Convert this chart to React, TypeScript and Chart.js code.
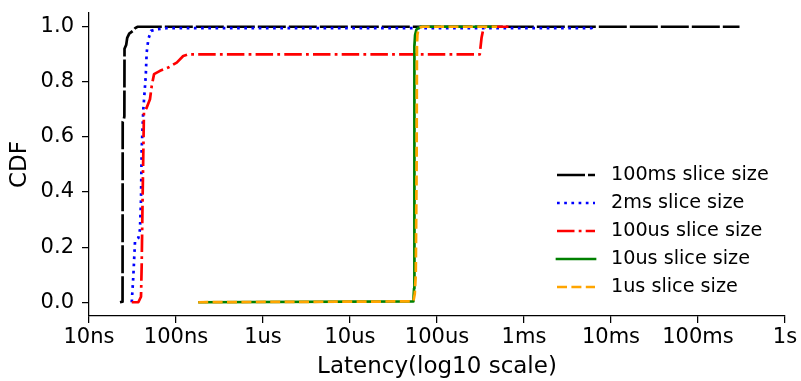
import React, { useEffect, useRef } from "react";
import { Chart, registerables } from "chart.js";

Chart.register(...registerables);

// x axis (latency in ns, log scale)
const xTickValues = [10, 100, 1e3, 1e4, 1e5, 1e6, 1e7, 1e8, 1e9];
const xTickLabels = ["10ns", "100ns", "1us", "10us", "100us", "1ms", "10ms", "100ms", "1s"];
const yTickValues = [0, 0.2, 0.4, 0.6, 0.8, 1.0];

const seriesLabels = [
  "100ms slice size",
  "2ms slice size",
  "100us slice size",
  "10us slice size",
  "1us slice size",
];

// 100ms slice size
const lat100ms = [22.7, 24.3, 24.4, 25.2, 25.5, 25.6, 26.8, 27.5, 29, 32, 34, 36, 3.0e8];
const cdf100ms = [0, 0.002, 0.655, 0.665, 0.675, 0.92, 0.935, 0.96, 0.975, 0.985, 0.995, 1.0, 1.0];

// 2ms slice size
const lat2ms = [31, 32.3, 33.8, 36.9, 38.5, 39.6, 40.3, 42.1, 44.9, 46, 48.1, 51.6, 60, 78, 6.0e6, 6.2e6];
const cdf2ms = [0, 0.093, 0.221, 0.233, 0.263, 0.372, 0.554, 0.7, 0.821, 0.906, 0.955, 0.985, 0.991, 0.995, 0.995, 1.0];

// 100us slice size
const lat100us = [31, 36.9, 39.6, 40.3, 41.3, 42.8, 46, 50.2, 52.6, 55.9, 65.5, 81.5, 102, 121, 138, 3.1e5, 3.25e5, 3.4e5, 3.6e5, 7.0e5];
const cdf100us = [0, 0, 0.02, 0.13, 0.372, 0.688, 0.706, 0.737, 0.785, 0.828, 0.84, 0.852, 0.87, 0.894, 0.9, 0.9, 0.96, 0.99, 1.0, 1.0];

// 10us slice size
const lat10us = [180, 53500, 54500, 54800, 55200, 56000, 58000, 62000, 66000, 490000];
const cdf10us = [0, 0.003, 0.05, 0.5, 0.93, 0.97, 0.99, 0.997, 1.0, 1.0];

// 1us slice size
const lat1us = [180, 53500, 55500, 57000, 58300, 58800, 59500, 61000, 64000, 68000, 490000];
const cdf1us = [0, 0.003, 0.03, 0.1, 0.5, 0.93, 0.97, 0.99, 0.997, 1.0, 1.0];

const FONT = "'DejaVu Sans', sans-serif";

const toPoints = (xs: number[], ys: number[]) => xs.map((x, i) => ({ x, y: ys[i] }));

const legendPlugin = {
  id: "cdfLegend",
  afterDatasetsDraw(chart: any, _args: any, opts: any) {
    const { ctx, chartArea } = chart;
    const datasets = chart.data.datasets;
    const lineStart = chartArea.right - opts.lineOffset;
    const lineEnd = lineStart + opts.lineLength;
    const textX = chartArea.right - opts.textOffset;
    const lastY = chartArea.bottom - opts.bottomOffset;
    const n = datasets.length;
    ctx.save();
    datasets.forEach((ds: any, i: number) => {
      const y = lastY - (n - 1 - i) * opts.rowHeight;
      ctx.beginPath();
      ctx.setLineDash(ds.borderDash || []);
      ctx.lineDashOffset = 0;
      ctx.lineWidth = ds.borderWidth;
      ctx.strokeStyle = ds.borderColor;
      ctx.lineCap = ds.borderDash && ds.borderDash.length ? "butt" : "square";
      ctx.moveTo(lineStart, y);
      ctx.lineTo(lineEnd, y);
      ctx.stroke();
      ctx.setLineDash([]);
      ctx.fillStyle = "#000";
      ctx.font = `${opts.fontSize}px ${FONT}`;
      ctx.textAlign = "left";
      ctx.textBaseline = "middle";
      ctx.fillText(ds.label, textX, y + 0.5);
    });
    ctx.restore();
  },
};

export default function App() {
  const ref = useRef<HTMLCanvasElement>(null);

  useEffect(() => {
    document.body.style.margin = "0";
    const lw = 2.7;
    const chart = new Chart(ref.current as HTMLCanvasElement, {
      type: "line",
      data: {
        datasets: [
          {
            label: seriesLabels[0],
            data: toPoints(lat100ms, cdf100ms),
            borderColor: "#000000",
            borderDash: [28, 3],
            borderWidth: lw,
            order: 4,
          },
          {
            label: seriesLabels[1],
            data: toPoints(lat2ms, cdf2ms),
            borderColor: "#0000ff",
            borderDash: [2.7, 4.5],
            borderWidth: lw,
            order: 3,
          },
          {
            label: seriesLabels[2],
            data: toPoints(lat100us, cdf100us),
            borderColor: "#ff0000",
            borderDash: [17.5, 4.2, 2.8, 4.2],
            borderWidth: lw,
            order: 2,
          },
          {
            label: seriesLabels[3],
            data: toPoints(lat10us, cdf10us),
            borderColor: "#008000",
            borderDash: [],
            borderWidth: lw,
            order: 1,
          },
          {
            label: seriesLabels[4],
            data: toPoints(lat1us, cdf1us),
            borderColor: "#ffa500",
            borderDash: [10, 4.4],
            borderWidth: lw,
            order: 0,
          },
        ].map((d) => ({
          ...d,
          pointRadius: 0,
          pointHoverRadius: 0,
          tension: 0,
          fill: false,
          borderCapStyle: "butt",
          borderJoinStyle: "round",
        })) as any,
      },
      options: {
        responsive: false,
        animation: false,
        events: [],
        layout: { padding: { top: 13, right: 16, left: 0, bottom: 0 } },
        plugins: {
          legend: { display: false },
          tooltip: { enabled: false },
          cdfLegend: {
            lineOffset: 228,
            lineLength: 38,
            textOffset: 174,
            bottomOffset: 29,
            rowHeight: 28,
            fontSize: 19.2,
          },
        } as any,
        scales: {
          x: {
            type: "logarithmic",
            position: "bottom",
            min: 10,
            max: 1e9,
            bounds: "data",
            afterBuildTicks: (scale: any) => {
              scale.ticks = xTickValues.map((v) => ({ value: v }));
            },
            afterFit: (scale: any) => {
              scale.height = 65;
              scale.paddingLeft = 0;
              scale.paddingRight = 0;
            },
            ticks: {
              autoSkip: false,
              maxRotation: 0,
              minRotation: 0,
              padding: 2,
              color: "#000",
              font: { family: FONT, size: 21 },
              callback: (value: any) => {
                const lv = Math.log10(Number(value));
                const idx = xTickValues.findIndex((t) => Math.abs(Math.log10(t) - lv) < 1e-6);
                return idx >= 0 ? xTickLabels[idx] : "";
              },
            },
            grid: {
              drawOnChartArea: false,
              drawTicks: true,
              tickLength: 7,
              color: "#000",
              lineWidth: 1.25,
            },
            border: { display: true, color: "#000", width: 1.25 },
            title: {
              display: true,
              text: "Latency(log10 scale)",
              color: "#000",
              font: { family: FONT, size: 23, lineHeight: 1.2 },
              padding: { top: 0, bottom: 0 },
            },
          },
          y: {
            type: "linear",
            min: -0.05,
            max: 1.05,
            bounds: "data",
            afterBuildTicks: (scale: any) => {
              scale.ticks = yTickValues.map((v) => ({ value: v }));
            },
            afterFit: (scale: any) => {
              scale.width = 89;
              scale.paddingTop = 0;
              scale.paddingBottom = 0;
            },
            ticks: {
              padding: 8,
              color: "#000",
              font: { family: FONT, size: 21 },
              callback: (value: any) => Number(value).toFixed(1),
            },
            grid: {
              drawOnChartArea: false,
              drawTicks: true,
              tickLength: 7,
              color: "#000",
              lineWidth: 1.25,
            },
            border: { display: true, color: "#000", width: 1.25 },
            title: {
              display: true,
              text: "CDF",
              color: "#000",
              font: { family: FONT, size: 23, lineHeight: 1.2 },
              padding: { top: 6, bottom: 0 },
            },
          },
        },
      },
      plugins: [legendPlugin],
    });
    return () => chart.destroy();
  }, []);

  return (
    <div style={{ position: "absolute", left: 0, top: 0, width: 801, height: 381 }}>
      <canvas ref={ref} width={801} height={381} style={{ display: "block" }} />
    </div>
  );
}
